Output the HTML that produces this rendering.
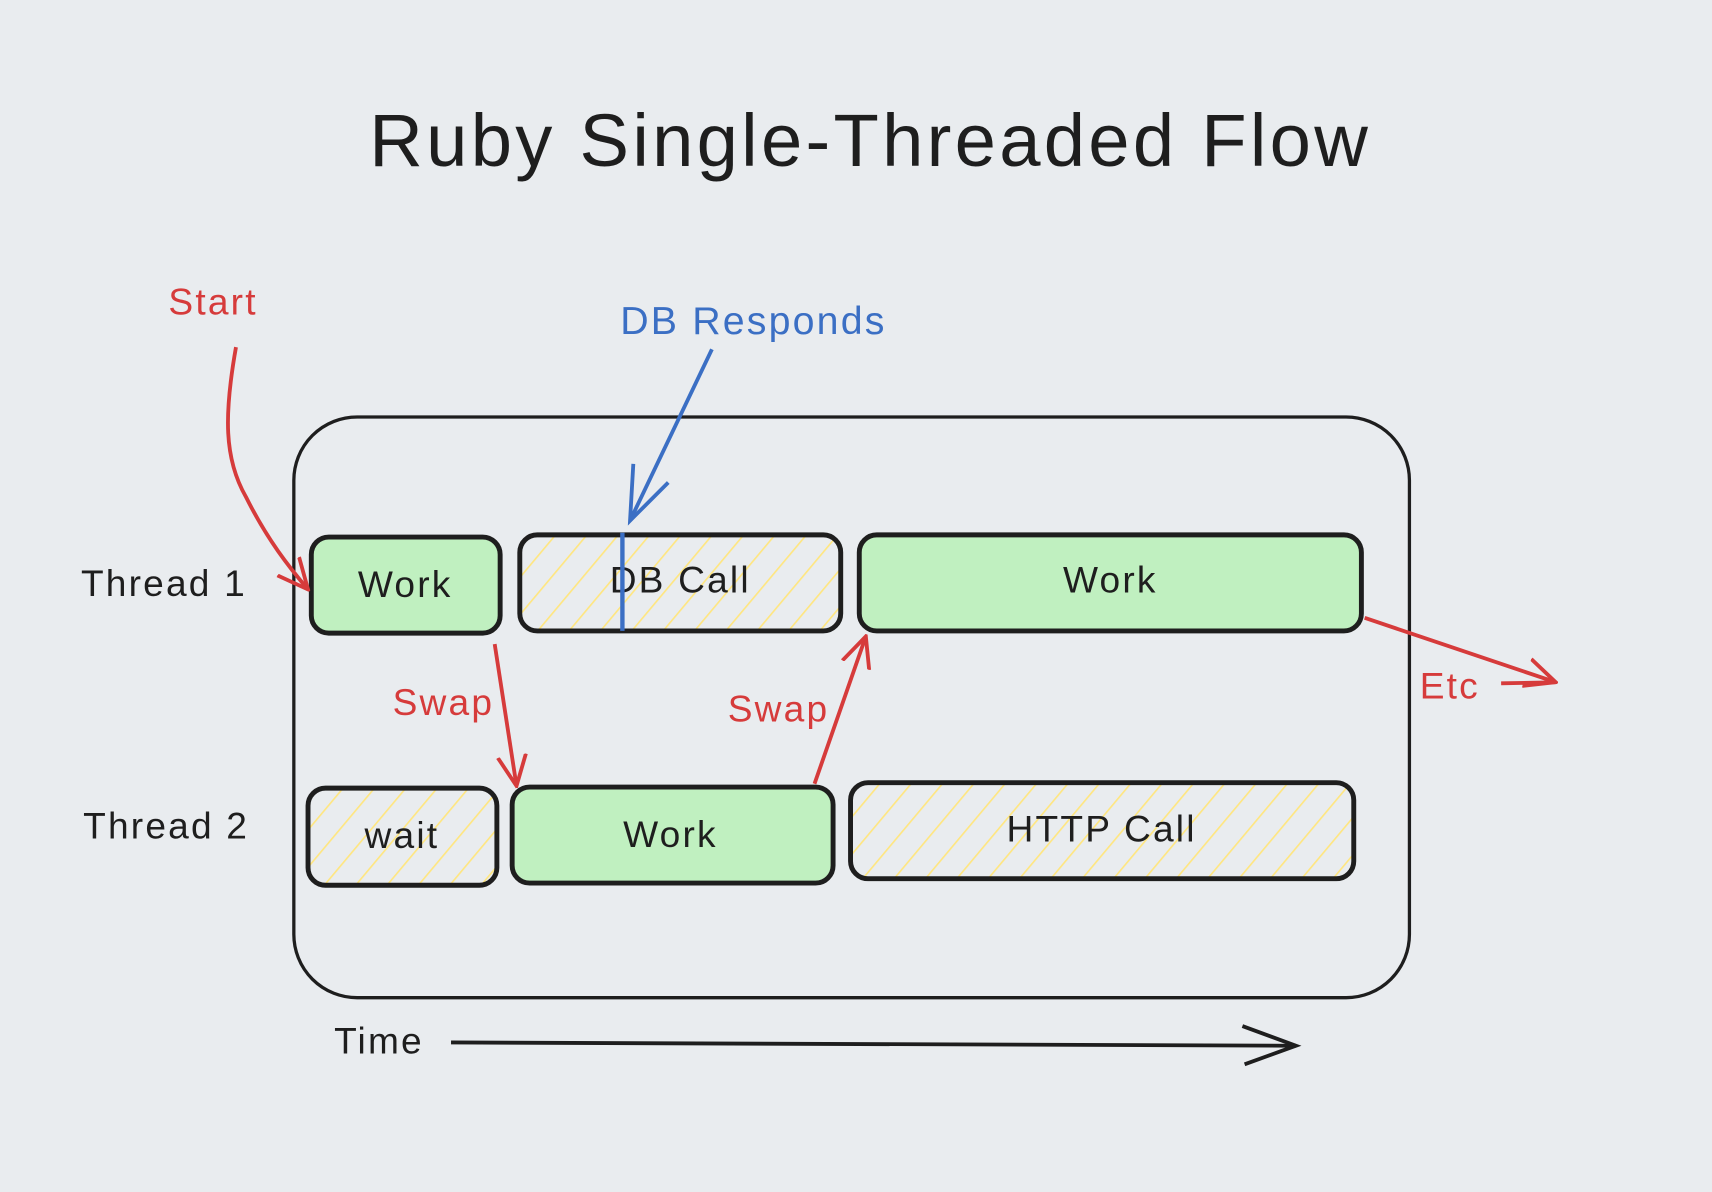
<!DOCTYPE html>
<html><head><meta charset="utf-8"><style>
html,body{margin:0;padding:0;background:#e9ecef;}
svg{display:block}
text{font-family:"Liberation Sans",sans-serif;}
</style></head><body>
<svg width="1712" height="1192" viewBox="0 0 1568 1092" xmlns="http://www.w3.org/2000/svg">
<defs>
<pattern id="h" patternUnits="userSpaceOnUse" width="22" height="22" patternTransform="rotate(40)">
<rect width="22" height="22" fill="#e9ecef"/>
<line x1="0" y1="0" x2="0" y2="22" stroke="#ffe680" stroke-width="3"/>
</pattern>
<marker id="ar" viewBox="0 0 30 30" refX="28" refY="15" markerWidth="30" markerHeight="30" markerUnits="userSpaceOnUse" orient="auto"><path d="M0,2 L28,15 L0,28" fill="none" stroke="#d63b3b" stroke-width="3.5"/></marker>
</defs>
<rect width="1568" height="1092" fill="#e9ecef"/>
<text x="797" y="152" font-size="68" text-anchor="middle" fill="#1e1e1e" letter-spacing="3">Ruby Single-Threaded Flow</text>
<rect x="269" y="382" width="1022" height="532" rx="58" fill="none" stroke="#1e1e1e" stroke-width="3"/>
<g stroke="#1e1e1e" stroke-width="4.5">
<rect x="285" y="492" width="173" height="88" rx="16" fill="#c0f0c0"/>
<rect x="476" y="490" width="294" height="88" rx="16" fill="url(#h)"/>
<rect x="787" y="490" width="460" height="88" rx="16" fill="#c0f0c0"/>
<rect x="282" y="722" width="173" height="89" rx="16" fill="url(#h)"/>
<rect x="469" y="721" width="294" height="88" rx="16" fill="#c0f0c0"/>
<rect x="779" y="717" width="461" height="88" rx="16" fill="url(#h)"/>
</g>
<g font-size="34" fill="#1e1e1e" text-anchor="middle" letter-spacing="2">
<text x="371" y="547">Work</text>
<text x="623" y="543">DB Call</text>
<text x="1017" y="543">Work</text>
<text x="368" y="777">wait</text>
<text x="614" y="776">Work</text>
<text x="1009" y="771">HTTP Call</text>
<text x="150" y="546">Thread 1</text>
<text x="152" y="768">Thread 2</text>
<text x="347" y="965">Time</text>
</g>
<line x1="570" y1="488" x2="570" y2="578" stroke="#3b6fc4" stroke-width="4"/>
<g stroke="#3b6fc4" stroke-width="3.5" fill="none"><path d="M652,320 L577,477"/><path d="M580,425 L577,477 L612,442"/></g>
<text x="690" y="306" font-size="36" fill="#3b6fc4" text-anchor="middle" letter-spacing="2">DB Responds</text>
<g font-size="34" fill="#d63b3b" text-anchor="middle" letter-spacing="2">
<text x="195" y="288">Start</text>
<text x="406" y="655">Swap</text>
<text x="713" y="661">Swap</text>
<text x="1328" y="640">Etc</text>
</g>
<g stroke="#d63b3b" stroke-width="3.5" fill="none">
<path d="M216,318 C205,380 205,420 225,455 C245,495 265,520 282,540" marker-end="url(#ar)"/>
<path d="M453,590 L473,720" marker-end="url(#ar)"/>
<path d="M746,718 L793,583" marker-end="url(#ar)"/>
<path d="M1250,566 L1425,625" marker-end="url(#ar)"/>
<path d="M1375,626 L1425,625"/>
</g>
<g stroke="#1e1e1e" stroke-width="3.5" fill="none">
<path d="M413,955 L1187,958"/><path d="M1138,940 L1187,958 L1140,975"/>
</g>
</svg>
</body></html>
